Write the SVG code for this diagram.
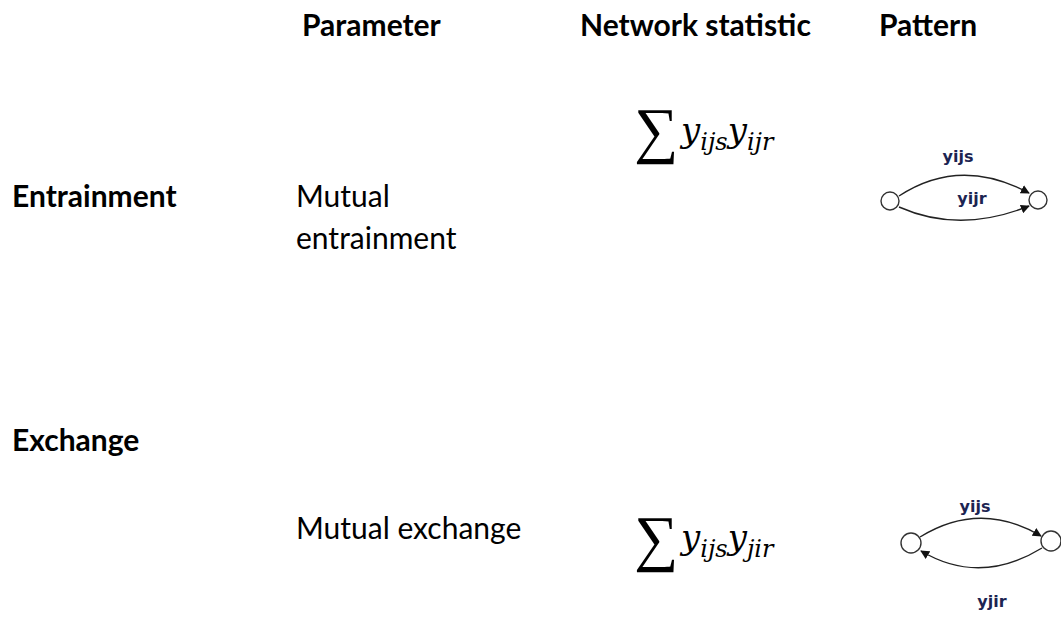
<svg xmlns="http://www.w3.org/2000/svg" width="1061" height="625" viewBox="0 0 1061 625">
<style>
.h{font-family:Lato,"Open Sans",sans-serif;font-weight:bold;font-size:30px;fill:#000}
.t{font-family:Lato,"Open Sans",sans-serif;font-size:30px;fill:#000}
.m{font-family:"DejaVu Serif","Liberation Serif",serif;font-style:italic;fill:#000}
.sig{font-family:"Liberation Serif","DejaVu Serif",serif;fill:#000}
.lbl{font-family:"DejaVu Sans",Verdana,sans-serif;font-weight:bold;font-size:16px;fill:#1c2452}
.node{fill:#fff;stroke:#333;stroke-width:1.4}
.edge{fill:none;stroke:#222;stroke-width:1.4;marker-end:url(#arr)}
</style>
<defs>
<marker id="arr" viewBox="0 0 10 10" refX="9" refY="5" markerWidth="9" markerHeight="9" markerUnits="userSpaceOnUse" orient="auto">
<path d="M0,0 L10,5 L0,10 z" fill="#111"/>
</marker>
</defs>
<rect width="1061" height="625" fill="#fff"/>
<g id="headers">
<text class="h" x="302" y="36">Parameter</text>
<text class="h" x="580" y="36">Network statistic</text>
<text class="h" x="879" y="36">Pattern</text>
</g>
<g id="row-entrainment">
<text class="h" x="12" y="207">Entrainment</text>
<text class="t" x="296" y="207">Mutual</text>
<text class="t" x="296" y="249">entrainment</text>
<text class="sig" x="634" y="151" font-size="62">∑</text>
<text class="m" x="681" y="142" font-size="34">y<tspan font-size="24" dy="8">ijs</tspan><tspan dy="-8">y</tspan><tspan font-size="24" dy="8">ijr</tspan></text>
</g>
<g id="row-exchange">
<text class="h" x="12" y="451">Exchange</text>
<text class="t" x="296" y="539">Mutual exchange</text>
<text class="sig" x="634" y="559" font-size="62">∑</text>
<text class="m" x="681" y="549" font-size="34">y<tspan font-size="24" dy="8">ijs</tspan><tspan dy="-8">y</tspan><tspan font-size="24" dy="8">jir</tspan></text>
</g>
<g id="connectors">
<path class="edge" d="M899,196 Q960,156 1029,193"/>
<path class="edge" d="M899,207 Q960,234 1029,206"/>
<path class="edge" d="M920,537 Q980,500 1041,536"/>
<path class="edge" d="M1042,548 Q980,586 921,551"/>
</g>
<g id="pattern1">
<circle id="p1-i" class="node" cx="890" cy="201" r="9"/>
<circle id="p1-j" class="node" cx="1038" cy="200" r="9"/>
<text class="lbl" x="958" y="162" text-anchor="middle">yijs</text>
<text class="lbl" x="972" y="204" text-anchor="middle">yijr</text>
</g>
<g id="pattern2">
<circle id="p2-i" class="node" cx="911" cy="543" r="10"/>
<circle id="p2-j" class="node" cx="1051" cy="541" r="10"/>
<text class="lbl" x="975" y="512" text-anchor="middle">yijs</text>
<text class="lbl" x="992" y="607" text-anchor="middle">yjir</text>
</g>
</svg>
